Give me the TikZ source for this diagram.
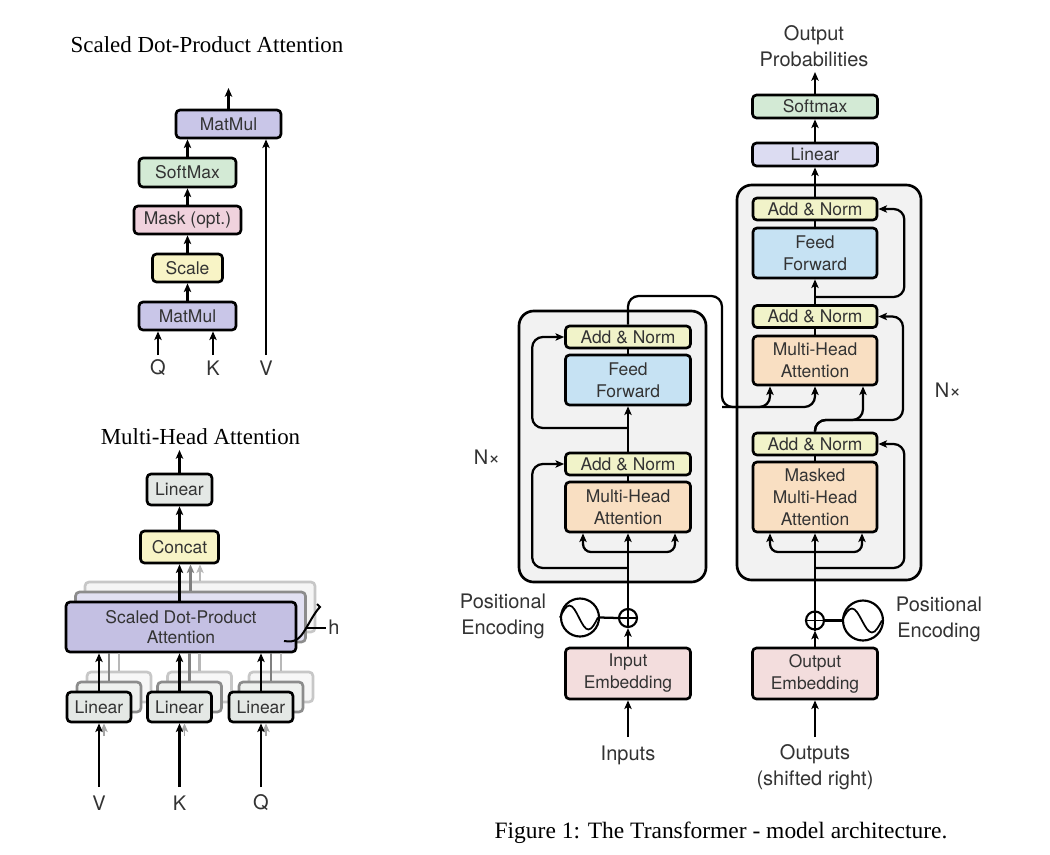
\documentclass[tikz,border=0pt]{standalone}
\usepackage{fontspec}
\setmainfont{Liberation Serif}
\setsansfont{TeX Gyre Heros}
\usetikzlibrary{arrows.meta,calc}
\definecolor{cpurple}{HTML}{C9C6E8}
\definecolor{cpurpleb}{HTML}{C4C0E3}
\definecolor{cgreen}{HTML}{D3EAD5}
\definecolor{cpink}{HTML}{F0D2DD}
\definecolor{cyellow}{HTML}{F8F4C6}
\definecolor{cgray}{HTML}{E4E8E5}
\definecolor{cnorm}{HTML}{F1F3C9}
\definecolor{cblue}{HTML}{C6E2F3}
\definecolor{corange}{HTML}{F9DFC2}
\definecolor{cemb}{HTML}{F3DDDD}
\definecolor{clin}{HTML}{DCDCF2}
\definecolor{cbg}{HTML}{F2F2F2}
\definecolor{txt}{HTML}{333333}
\begin{document}
\begin{tikzpicture}[x=0.75pt,y=-0.75pt,
  box/.style={draw=black, line width=2pt, rounded corners=3pt, inner sep=0pt, align=center, text=txt, font=\sffamily\fontsize{13.1}{16.5}\selectfont},
  bw/.style={minimum width=#1*0.75pt},
  bh/.style={minimum height=#1*0.75pt},
  outer/.style={draw=black, line width=2pt, rounded corners=11pt, fill=cbg, inner sep=0pt},
  conn/.style={line width=1.7pt},
  arr/.style={conn, -{Stealth[length=6.5pt,width=5.5pt,inset=1.5pt]}},
  lbl/.style={inner sep=0pt, align=center, text=txt, font=\sffamily\fontsize{15}{19.5}\selectfont},
  ttl/.style={inner sep=0pt, font=\fontsize{17.2}{20}\selectfont},
  circ/.style={circle, draw=black, line width=1.6pt, fill=white, inner sep=0pt, minimum size=#1*0.75pt}
]
\useasboundingbox (0,0) rectangle (1050,854);
\fill[white] (0,0) rectangle (1050,854);

% ---------- Scaled Dot-Product Attention ----------
\node[ttl] (t1) at (207,45) {Scaled Dot-Product Attention};
\node[box,bw=105,bh=28,fill=cpurple] (mm2) at (228.5,124) {MatMul};
\node[box,bw=97,bh=29,fill=cgreen] (sm) at (187.5,172.5) {SoftMax};
\node[box,bw=107,bh=28,fill=cpink] (mask) at (187.5,220) {Mask (opt.)};
\node[box,bw=70,bh=28,fill=cyellow] (scale) at (187.5,268) {Scale};
\node[box,bw=97,bh=28,fill=cpurple] (mm1) at (187.5,316) {MatMul};
\node[lbl] (ql) at (158,368) {Q};
\node[lbl] (kl) at (213,368) {K};
\node[lbl] (vl) at (266,368) {V};
\coordinate (qin) at (158,355);
\coordinate (kin) at (213,355);
\coordinate (vin) at (266,355);
\coordinate (sout) at (228.5,88);
\draw[arr] (qin) -- (qin |- mm1.south);
\draw[arr] (kin) -- (kin |- mm1.south);
\draw[arr] (vin) -- (vin |- mm2.south);
\draw[arr] (mm1.north) -- (scale.south);
\draw[arr] (scale.north) -- (mask.south);
\draw[arr] (mask.north) -- (sm.south);
\draw[arr] (sm.north) -- (sm.north |- mm2.south);
\draw[arr] (mm2.north) -- (sout);

% ---------- Multi-Head Attention ----------
\node[ttl] (t2) at (200.5,437) {Multi-Head Attention};
\node[box,bw=65,bh=31,fill=cgray] (mlin) at (179.5,489.5) {Linear};
\node[box,bw=78,bh=32,fill=cyellow] (cat) at (179.5,547) {Concat};
\coordinate (mout) at (179.5,450);
\draw[arr] (mlin.north) -- (mout);
\draw[arr] (cat.north) -- (mlin.south);
\node[box,bw=230,bh=50,draw=black!22,fill=black!4] (sdpa3) at (200,607) {};
\node[box,bw=230,bh=50,draw=black!45,fill=cpurple!55!white] (sdpa2) at (190.5,617) {};
\node[box,bw=230,bh=50,fill=cpurpleb] (sdpa) at (181,627) {Scaled Dot-Product\\[-1pt]Attention};
\draw[arr,draw=black!28] (sdpa3.north) -- (sdpa3.north |- cat.south);
\draw[arr,draw=black!50] (sdpa2.north) -- (sdpa2.north |- cat.south);
\draw[arr] (sdpa.north -| cat.south) -- (cat.south);
\foreach \n/\x in {lv/99,lk/179.5,lq/261}{
  \node[box,bw=64,bh=30,draw=black!22,fill=black!3] (\n3) at (\x+20,687) {};
  \node[box,bw=64,bh=30,draw=black!45,fill=cgray!60!white] (\n2) at (\x+10,697) {};
  \draw[conn,draw=black!28] (\n3.north) -- (\n3.north |- sdpa.south);
  \draw[conn,draw=black!50] (\n2.north) -- (\n2.north |- sdpa.south);
  \node[box,bw=64,bh=30,fill=cgray] (\n) at (\x,707) {Linear};
  \draw[arr] (\n.north) -- (\n.north |- sdpa.south);
  \coordinate (\n in) at (\x,787);
  \coordinate (\n g) at (\x+5,736);
  \draw[arr,draw=black!35,line width=1pt] (\n g) -- (\n g |- \n.south);
  \draw[arr] (\n in) -- (\n.south);
}
\node[lbl] (vl2) at (99,803) {V};
\node[lbl] (kl2) at (179.5,803) {K};
\node[lbl] (ql2) at (261,803) {Q};
\draw[line width=1.5pt] (284,641) .. controls (296,643) and (300,638) .. (305,630) .. controls (311,620) and (315,612) .. (320,607) -- (317,604);
\draw[line width=1.3pt] (307,628) -- (326,628);
\node[lbl] (hl) at (334,627) {h};

% ---------- Transformer: encoder ----------
\node[outer,bw=187,bh=271] (enc) at (612.5,446.5) {};
\node[box,bw=125,bh=22,fill=cnorm] (ean2) at (628,337) {Add \& Norm};
\node[box,bw=125,bh=50,fill=cblue] (eff) at (628,380) {Feed\\Forward};
\node[box,bw=125,bh=22,fill=cnorm] (ean1) at (628,464) {Add \& Norm};
\node[box,bw=125,bh=50,fill=corange] (emha) at (628,507) {Multi-Head\\Attention};
\node[box,bw=125,bh=51,fill=cemb] (eemb) at (628,673.5) {Input\\Embedding};
\node[circ=18] (eplus) at (628,618) {};
\draw[line width=1.2pt] (eplus.north) -- (eplus.south) (eplus.west) -- (eplus.east);
\node[circ=38] (epe) at (580,617.5) {};
\draw[line width=1.3pt] (epe.west) sin ++(9.5,-12) cos ++(9.5,12) sin ++(9.5,12) cos ++(9.5,-12);
\node[lbl] (epos) at (503,616) {Positional\\Encoding};
\node[lbl] (enx) at (487,457) {N×};
\node[lbl] (inl) at (628,755) {Inputs};
\coordinate (ein) at (628,737);
\coordinate (efork) at (628,552);
\coordinate (eres1) at (628,568);
\coordinate (eres2) at (628,428);
\draw[arr] (ein) -- (eemb.south);
\draw[arr] (eemb.north) -- (eplus.south);
\draw[conn] (epe.east) -- (eplus.west);
\draw[arr] (eplus.north) -- (eplus.north |- emha.south);
\draw[arr,rounded corners=6pt] (efork) -| ($(emha.south)+(-45,0)$);
\draw[arr,rounded corners=6pt] (efork) -| ($(emha.south)+(47,0)$);
\draw[arr,rounded corners=8pt] (eres1) -| ($(ean1.west)+(-32,0)$) -- (ean1.west);
\draw[arr,rounded corners=8pt] (eres2) -| ($(ean2.west)+(-32,0)$) -- (ean2.west);
\draw[conn] (emha.north) -- (ean1.south);
\draw[arr] (ean1.north) -- (eff.south);
\draw[conn] (eff.north) -- (ean2.south);

% ---------- Transformer: decoder ----------
\node[outer,bw=184,bh=395] (dec) at (829,382.5) {};
\node[box,bw=124,bh=22,fill=cnorm] (dan3) at (815,209) {Add \& Norm};
\node[box,bw=124,bh=50,fill=cblue] (dff) at (815,253) {Feed\\Forward};
\node[box,bw=124,bh=22,fill=cnorm] (dan2) at (815,316.5) {Add \& Norm};
\node[box,bw=124,bh=49,fill=corange] (dmha) at (815,360.5) {Multi-Head\\Attention};
\node[box,bw=124,bh=22,fill=cnorm] (dan1) at (815,444) {Add \& Norm};
\node[box,bw=124,bh=70,fill=corange] (dmmha) at (815,497) {Masked\\Multi-Head\\Attention};
\node[box,bw=125,bh=51,fill=cemb] (demb) at (815,673.5) {Output\\Embedding};
\node[box,bw=125,bh=23,fill=clin] (dlin) at (815,154.5) {Linear};
\node[box,bw=125,bh=23,fill=cgreen] (dsm) at (815,106.5) {Softmax};
\node[circ=18] (dplus) at (815,620.5) {};
\draw[line width=1.2pt] (dplus.north) -- (dplus.south) (dplus.west) -- (dplus.east);
\node[circ=40] (dpe) at (863,620.5) {};
\draw[line width=1.3pt] (dpe.west) sin ++(10,-12) cos ++(10,12) sin ++(10,12) cos ++(10,-12);
\node[lbl] (dpos) at (939,619) {Positional\\Encoding};
\node[lbl] (dnx) at (948,390) {N×};
\node[lbl] (outl) at (815,767.5) {Outputs\\(shifted right)};
\node[lbl] (prob) at (814,46) {Output\\Probabilities};
\coordinate (din) at (815,737);
\coordinate (dfork) at (815,552);
\coordinate (dres1) at (815,568);
\coordinate (dr2) at (903,420);
\coordinate (dq1) at (863,420);
\coordinate (dres3) at (815,297);
\coordinate (dout) at (815,72);
\draw[arr] (din) -- (demb.south);
\draw[arr] (demb.north) -- (dplus.south);
\draw[conn] (dpe.west) -- (dplus.east);
\draw[arr] (dplus.north) -- (dplus.north |- dmmha.south);
\draw[arr,rounded corners=6pt] (dfork) -| ($(dmmha.south)+(-45,0)$);
\draw[arr,rounded corners=6pt] (dfork) -| ($(dmmha.south)+(47,0)$);
\draw[arr,rounded corners=8pt] (dres1) -| ($(dan1.east)+(26,0)$) -- (dan1.east);
\draw[conn] (dmmha.north) -- (dan1.south);
\draw[arr,rounded corners=8pt] (dan1.north) |- (dr2) |- (dan2.east);
\draw[arr,rounded corners=8pt] (dan1.north) |- (dq1) -- ($(dmha.south)+(48,0)$);
\draw[conn] (dmha.north) -- (dan2.south);
\draw[arr] (dan2.north) -- (dff.south);
\draw[arr,rounded corners=8pt] (dres3) -| ($(dan3.east)+(26,0)$) -- (dan3.east);
\draw[conn] (dff.north) -- (dan3.south);
\draw[arr] (dan3.north) -- (dlin.south);
\draw[arr] (dlin.north) -- (dsm.south);
\draw[arr] (dsm.north) -- (dout);

% ---------- encoder to decoder ----------
\coordinate (ec1) at (722,296);
\coordinate (ec2) at (722,407);
\draw[arr,rounded corners=8pt] (ean2.north) |- (ec1) -- (ec2) -| ($(dmha.south)+(-45,0)$);
\draw[arr,rounded corners=8pt] (ec2) -| (dmha.south);

% ---------- caption ----------
\node[inner sep=0pt, font=\fontsize{17.6}{20}\selectfont] (cap) at (721,833) {Figure 1: The Transformer - model architecture.};
\end{tikzpicture}
\end{document}
